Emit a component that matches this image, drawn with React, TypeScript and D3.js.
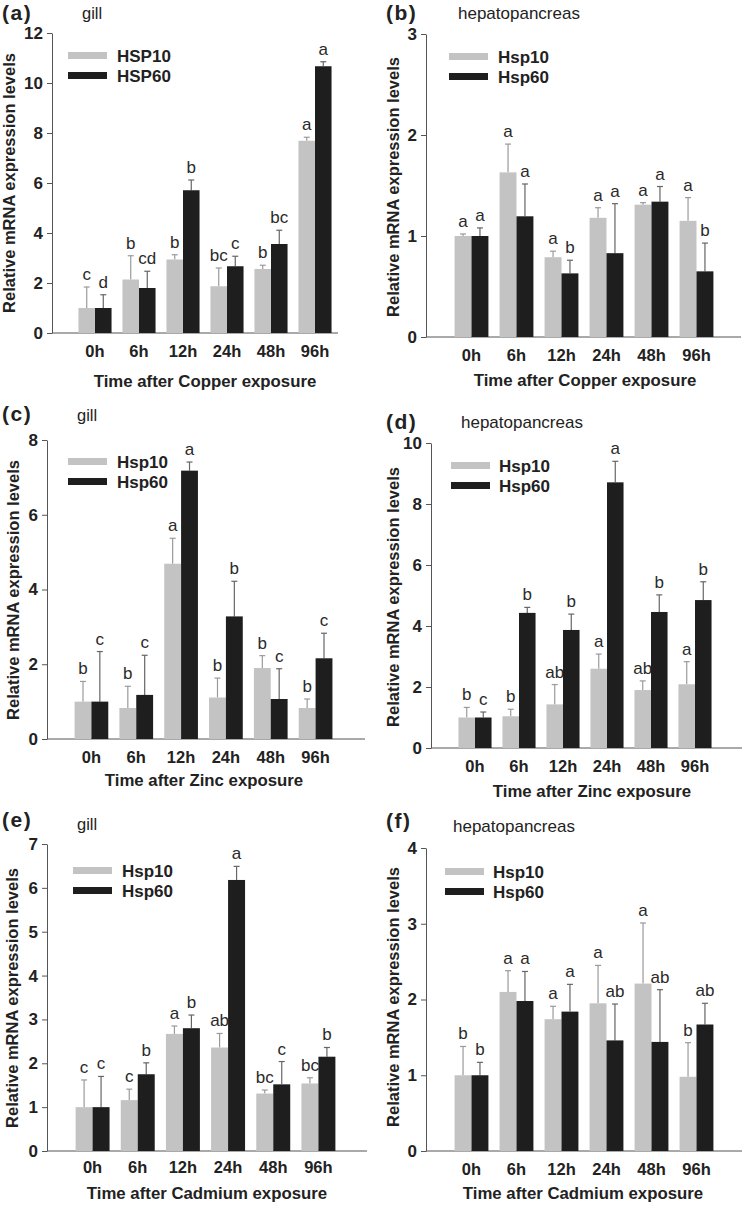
import React, { useEffect, useRef } from 'react';
import * as d3 from 'd3';

const timePoints = ['0h', '6h', '12h', '24h', '48h', '96h'];

// (a) gill, copper
const cuGill10 = [1.0, 2.14, 2.94, 1.87, 2.56, 7.69];
const cuGill10Err = [0.84, 0.95, 0.19, 0.73, 0.15, 0.14];
const cuGill60 = [1.0, 1.8, 5.71, 2.67, 3.56, 10.67];
const cuGill60Err = [0.53, 0.67, 0.41, 0.4, 0.55, 0.18];
const cuGill10Sig = ['c', 'b', 'b', 'bc', 'b', 'a'];
const cuGill60Sig = ['d', 'cd', 'b', 'c', 'bc', 'a'];

// (b) hepatopancreas, copper
const cuHep10 = [1.0, 1.63, 0.79, 1.18, 1.31, 1.15];
const cuHep10Err = [0.02, 0.28, 0.06, 0.1, 0.02, 0.23];
const cuHep60 = [1.0, 1.195, 0.63, 0.83, 1.34, 0.65];
const cuHep60Err = [0.08, 0.32, 0.13, 0.49, 0.15, 0.28];
const cuHep10Sig = ['a', 'a', 'a', 'a', 'a', 'a'];
const cuHep60Sig = ['a', 'a', 'b', 'a', 'a', 'b'];

// (c) gill, zinc
const znGill10 = [1.0, 0.83, 4.69, 1.11, 1.9, 0.83];
const znGill10Err = [0.54, 0.58, 0.68, 0.52, 0.33, 0.24];
const znGill60 = [1.0, 1.18, 7.18, 3.28, 1.07, 2.16];
const znGill60Err = [1.34, 1.06, 0.23, 0.94, 0.81, 0.67];
const znGill10Sig = ['b', 'b', 'a', 'b', 'b', 'b'];
const znGill60Sig = ['c', 'c', 'a', 'b', 'c', 'c'];

// (d) hepatopancreas, zinc
const znHep10 = [1.0, 1.04, 1.43, 2.6, 1.9, 2.09];
const znHep10Err = [0.33, 0.23, 0.65, 0.48, 0.3, 0.74];
const znHep60 = [1.0, 4.43, 3.87, 8.71, 4.46, 4.85];
const znHep60Err = [0.18, 0.18, 0.52, 0.69, 0.56, 0.6];
const znHep10Sig = ['b', 'b', 'ab', 'a', 'ab', 'a'];
const znHep60Sig = ['c', 'b', 'b', 'a', 'b', 'b'];

// (e) gill, cadmium
const cdGill10 = [1.0, 1.16, 2.67, 2.36, 1.31, 1.54];
const cdGill10Err = [0.62, 0.25, 0.18, 0.32, 0.08, 0.13];
const cdGill60 = [1.0, 1.75, 2.8, 6.18, 1.52, 2.15];
const cdGill60Err = [0.7, 0.26, 0.3, 0.31, 0.52, 0.21];
const cdGill10Sig = ['c', 'c', 'a', 'ab', 'bc', 'bc'];
const cdGill60Sig = ['c', 'b', 'b', 'a', 'c', 'b'];

// (f) hepatopancreas, cadmium
const cdHep10 = [1.0, 2.1, 1.74, 1.95, 2.21, 0.98];
const cdHep10Err = [0.38, 0.28, 0.17, 0.5, 0.8, 0.45];
const cdHep60 = [1.0, 1.98, 1.84, 1.46, 1.44, 1.67];
const cdHep60Err = [0.17, 0.39, 0.36, 0.48, 0.69, 0.28];
const cdHep10Sig = ['b', 'a', 'a', 'a', 'a', 'b'];
const cdHep60Sig = ['b', 'a', 'a', 'ab', 'ab', 'ab'];

const panels = [
  { tag: '(a)', tissue: 'gill', metal: 'Copper', names: ['HSP10', 'HSP60'],
    v10: cuGill10, e10: cuGill10Err, v60: cuGill60, e60: cuGill60Err, s10: cuGill10Sig, s60: cuGill60Sig,
    axisX: 52, yTop: 33, yBot: 333, max: 12, step: 2, band: [73, 337], axisR: 338,
    tagX: 2, tagY: 20, tisX: 82, tisY: 19, legX: 68, legY: 52, legTx: 117,
    ytX: 15, ytY: 183, catY: 357, xtX: 205, xtY: 387 },
  { tag: '(b)', tissue: 'hepatopancreas', metal: 'Copper', names: ['Hsp10', 'Hsp60'],
    v10: cuHep10, e10: cuHep10Err, v60: cuHep60, e60: cuHep60Err, s10: cuHep10Sig, s60: cuHep60Sig,
    axisX: 426, yTop: 34, yBot: 337, max: 3, step: 1, band: [449, 719], axisR: 741,
    tagX: 386, tagY: 20, tisX: 458, tisY: 19, legX: 449, legY: 53, legTx: 498,
    ytX: 399, ytY: 187, catY: 361, xtX: 585, xtY: 386 },
  { tag: '(c)', tissue: 'gill', metal: 'Zinc', names: ['Hsp10', 'Hsp60'],
    v10: znGill10, e10: znGill10Err, v60: znGill60, e60: znGill60Err, s10: znGill10Sig, s60: znGill60Sig,
    axisX: 47, yTop: 440, yBot: 739, max: 8, step: 2, band: [69, 338], axisR: 365,
    tagX: 2, tagY: 421, tisX: 77, tisY: 421, legX: 68, legY: 458, legTx: 117,
    ytX: 19, ytY: 590, catY: 763, xtX: 204, xtY: 786 },
  { tag: '(d)', tissue: 'hepatopancreas', metal: 'Zinc', names: ['Hsp10', 'Hsp60'],
    v10: znHep10, e10: znHep10Err, v60: znHep60, e60: znHep60Err, s10: znHep10Sig, s60: znHep60Sig,
    axisX: 431, yTop: 443, yBot: 748, max: 10, step: 2, band: [453, 717], axisR: 742,
    tagX: 386, tagY: 429, tisX: 461, tisY: 428, legX: 451, legY: 462, legTx: 499,
    ytX: 399, ytY: 597, catY: 772, xtX: 592, xtY: 797 },
  { tag: '(e)', tissue: 'gill', metal: 'Cadmium', names: ['Hsp10', 'Hsp60'],
    v10: cdGill10, e10: cdGill10Err, v60: cdGill60, e60: cdGill60Err, s10: cdGill10Sig, s60: cdGill60Sig,
    axisX: 47, yTop: 844, yBot: 1151, max: 7, step: 1, band: [70, 341], axisR: 367,
    tagX: 2, tagY: 827, tisX: 77, tisY: 830, legX: 73, legY: 867, legTx: 122,
    ytX: 18, ytY: 998, catY: 1173, xtX: 207, xtY: 1199 },
  { tag: '(f)', tissue: 'hepatopancreas', metal: 'Cadmium', names: ['Hsp10', 'Hsp60'],
    v10: cdHep10, e10: cdHep10Err, v60: cdHep60, e60: cdHep60Err, s10: cdHep10Sig, s60: cdHep60Sig,
    axisX: 426, yTop: 848, yBot: 1151, max: 4, step: 1, band: [449, 719], axisR: 742,
    tagX: 386, tagY: 828, tisX: 453, tisY: 832, legX: 445, legY: 868, legTx: 493,
    ytX: 399, ytY: 997, catY: 1175, xtX: 583, xtY: 1199 },
];

const FONT = '"Liberation Sans", Arial, sans-serif';
const LIGHT = '#c3c3c3';
const DARK = '#1e1e1e';

const App = () => {
  const svgRef = useRef(null);

  useEffect(() => {
    const svg = d3.select(svgRef.current);
    svg.selectAll('*').remove();

    panels.forEach(p => {
      const g = svg.append('g').style('font-family', FONT);

      const x = d3.scaleBand().domain(timePoints).range(p.band).padding(0);
      const xs = d3.scaleBand().domain(['10', '60']).range([0, x.bandwidth()]).paddingOuter(0.33);
      const y = d3.scaleLinear().domain([0, p.max]).range([p.yBot, p.yTop]);

      // y axis
      const ya = g.append('g')
        .attr('transform', `translate(${p.axisX},0)`)
        .call(d3.axisLeft(y).tickValues(d3.range(0, p.max + 0.001, p.step)).tickSize(5).tickSizeOuter(0).tickPadding(4).tickFormat(d3.format('d')));
      ya.select('.domain').attr('stroke', '#555');
      ya.selectAll('.tick line').attr('stroke', '#555');
      ya.selectAll('.tick text')
        .attr('fill', '#222')
        .style('font-family', FONT)
        .style('font-size', '17px')
        .style('font-weight', 'bold');

      // x axis line
      g.append('line')
        .attr('x1', p.axisX).attr('x2', p.axisR)
        .attr('y1', p.yBot).attr('y2', p.yBot)
        .attr('stroke', '#555');

      const series = [
        { key: '10', vals: p.v10, errs: p.e10, sig: p.s10, fill: LIGHT, errColor: '#9a9a9a' },
        { key: '60', vals: p.v60, errs: p.e60, sig: p.s60, fill: DARK, errColor: '#666' },
      ];

      series.forEach(s => {
        const rows = timePoints.map((t, i) => ({ t, v: s.vals[i], e: s.errs[i], sig: s.sig[i] }));
        const cx = d => x(d.t) + xs(s.key) + xs.bandwidth() / 2;

        // error bars (upper only)
        g.selectAll(null).data(rows).enter().append('line')
          .attr('x1', cx).attr('x2', cx)
          .attr('y1', d => y(d.v)).attr('y2', d => y(d.v + d.e))
          .attr('stroke', s.errColor).attr('stroke-width', 1.2);
        g.selectAll(null).data(rows).enter().append('line')
          .attr('x1', d => cx(d) - 3).attr('x2', d => cx(d) + 3)
          .attr('y1', d => y(d.v + d.e)).attr('y2', d => y(d.v + d.e))
          .attr('stroke', s.errColor).attr('stroke-width', 1.2);

        g.selectAll(null).data(rows).enter().append('rect')
          .attr('x', d => x(d.t) + xs(s.key))
          .attr('width', xs.bandwidth())
          .attr('y', d => y(d.v))
          .attr('height', d => y(0) - y(d.v))
          .attr('fill', s.fill);

        // significance letters
        g.selectAll(null).data(rows).enter().append('text')
          .attr('x', cx)
          .attr('y', d => y(d.v + d.e) - 7)
          .attr('text-anchor', 'middle')
          .attr('fill', '#2a2a2a')
          .style('font-size', '17px')
          .text(d => d.sig);
      });

      // category labels
      g.selectAll(null).data(timePoints).enter().append('text')
        .attr('x', d => x(d) + x.bandwidth() / 2)
        .attr('y', p.catY)
        .attr('text-anchor', 'middle')
        .attr('fill', '#222')
        .style('font-size', '16.5px')
        .style('font-weight', 'bold')
        .text(d => d);

      // axis titles
      g.append('text')
        .attr('x', p.xtX).attr('y', p.xtY)
        .attr('text-anchor', 'middle')
        .attr('fill', '#222')
        .style('font-size', '16.8px')
        .style('font-weight', 'bold')
        .text(`Time after ${p.metal} exposure`);

      g.append('text')
        .attr('transform', `translate(${p.ytX},${p.ytY}) rotate(-90)`)
        .attr('text-anchor', 'middle')
        .attr('fill', '#222')
        .style('font-size', '16.5px')
        .style('font-weight', 'bold')
        .text('Relative mRNA expression levels');

      // panel tag + tissue
      g.append('text')
        .attr('x', p.tagX).attr('y', p.tagY)
        .attr('fill', '#222')
        .style('font-size', '21px')
        .style('font-weight', 'bold')
        .style('letter-spacing', '1.5px')
        .text(p.tag);
      g.append('text')
        .attr('x', p.tisX).attr('y', p.tisY)
        .attr('fill', '#222')
        .style('font-size', p.tissue === 'gill' ? '16.5px' : '17px')
        .text(p.tissue);

      // legend
      [LIGHT, DARK].forEach((c, i) => {
        g.append('rect')
          .attr('x', p.legX).attr('y', p.legY + i * 20)
          .attr('width', 39).attr('height', 7)
          .attr('fill', c);
        g.append('text')
          .attr('x', p.legTx).attr('y', p.legY + i * 20 + 10)
          .attr('fill', '#222')
          .style('font-size', '17px')
          .style('font-weight', 'bold')
          .text(p.names[i]);
      });
    });
  }, []);

  return (
    <svg ref={svgRef} width={742} height={1205}
      style={{ position: 'absolute', left: 0, top: 0, background: '#fff' }} />
  );
};

export default App;
